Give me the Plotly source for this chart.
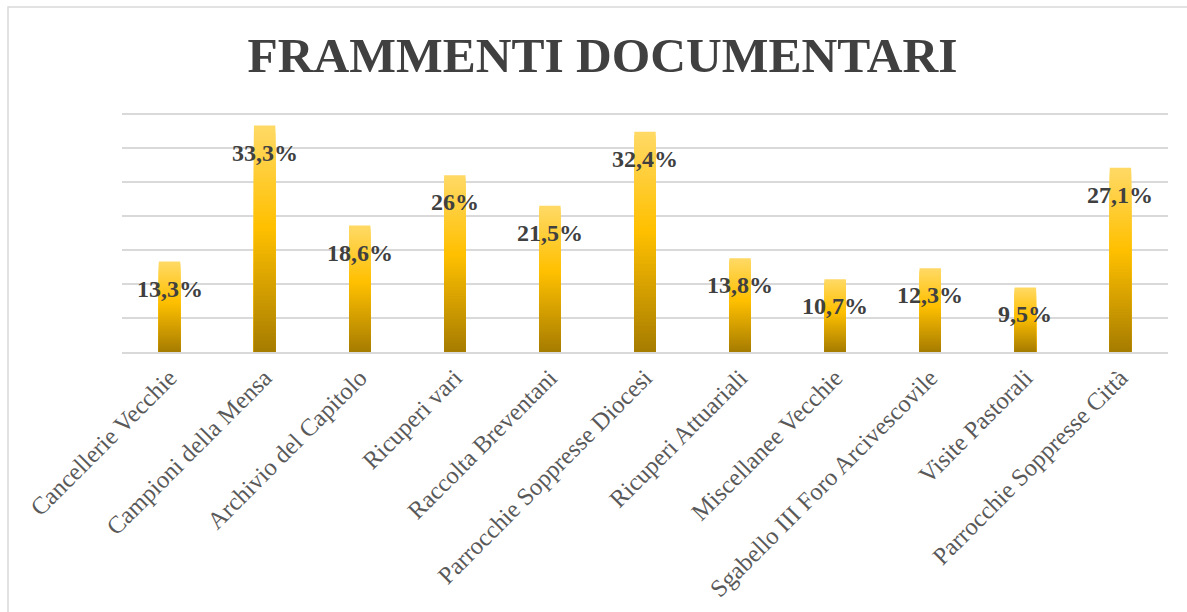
import plotly.graph_objects as go

categories = [
    "Cancellerie Vecchie", "Campioni della Mensa", "Archivio del Capitolo",
    "Ricuperi vari", "Raccolta Breventani", "Parrocchie Soppresse Diocesi",
    "Ricuperi Attuariali", "Miscellanee Vecchie", "Sgabello III Foro Arcivescovile",
    "Visite Pastorali", "Parrocchie Soppresse Città",
]
values = [13.3, 33.3, 18.6, 26.0, 21.5, 32.4, 13.8, 10.7, 12.3, 9.5, 27.1]
labels = ["13,3%", "33,3%", "18,6%", "26%", "21,5%", "32,4%", "13,8%", "10,7%", "12,3%", "9,5%", "27,1%"]

W, H = 1187, 612
ML, MR, MT, MB = 122, 19, 113, 260

# gradient stops (fraction from bottom -> color)
stops = [(0.0, (166, 124, 0)), (0.55, (255, 192, 0)), (1.0, (255, 217, 102))]


def grad(t):
    for (t0, c0), (t1, c1) in zip(stops[:-1], stops[1:]):
        if t0 <= t <= t1:
            f = (t - t0) / (t1 - t0)
            c = [round(a + (b - a) * f) for a, b in zip(c0, c1)]
            return "rgb(%d,%d,%d)" % tuple(c)
    return "rgb(%d,%d,%d)" % stops[-1][1]


N = 60
fig = go.Figure()
# overlaid bars, tallest first, each shorter one painted on top -> smooth vertical gradient
for k in range(N):
    frac = (N - k) / N
    fig.add_trace(go.Bar(
        x=categories,
        y=[v * frac for v in values],
        width=0.225,
        marker=dict(color=grad(frac - 0.5 / N), line=dict(width=0)),
        hoverinfo="skip",
        showlegend=False,
    ))

for c, v, t in zip(categories, values, labels):
    fig.add_annotation(
        x=c, y=v, text=t, showarrow=False, yshift=-27, yanchor="middle",
        font=dict(family="Liberation Serif", size=24, color="#404040", weight="bold"),
    )

pw = W - ML - MR
ph = H - MT - MB
# outer chart border (left and top visible)
fig.add_shape(
    type="rect", xref="paper", yref="paper",
    x0=(8 - ML) / pw, x1=(1200 - ML) / pw,
    y0=(H - MB - 640) / ph, y1=(H - MB - 7) / ph,
    line=dict(color="#D9D9D9", width=1.5), fillcolor="rgba(0,0,0,0)", layer="below",
)

fig.update_layout(
    width=W, height=H,
    margin=dict(l=ML, r=MR, t=MT, b=MB),
    paper_bgcolor="white", plot_bgcolor="white",
    barmode="overlay",
    title=dict(
        text="FRAMMENTI DOCUMENTARI",
        font=dict(family="Liberation Serif", size=49.5, color="#404040", weight="bold"),
        x=602.5 / W, xref="container", xanchor="center",
        y=1 - 55 / H, yref="container", yanchor="middle",
    ),
    xaxis=dict(
        tickangle=-45, showgrid=False, automargin=False,
        tickfont=dict(family="Liberation Serif", size=24.5, color="#595959"),
        showline=True, linecolor="#D9D9D9", linewidth=1.5, ticks="",
    ),
    yaxis=dict(
        range=[0, 35.15], dtick=5, showticklabels=False, automargin=False,
        showgrid=True, gridcolor="#D9D9D9", gridwidth=1.5,
        zeroline=False, showline=False, ticks="",
    ),
)

fig.write_html("out.html")
